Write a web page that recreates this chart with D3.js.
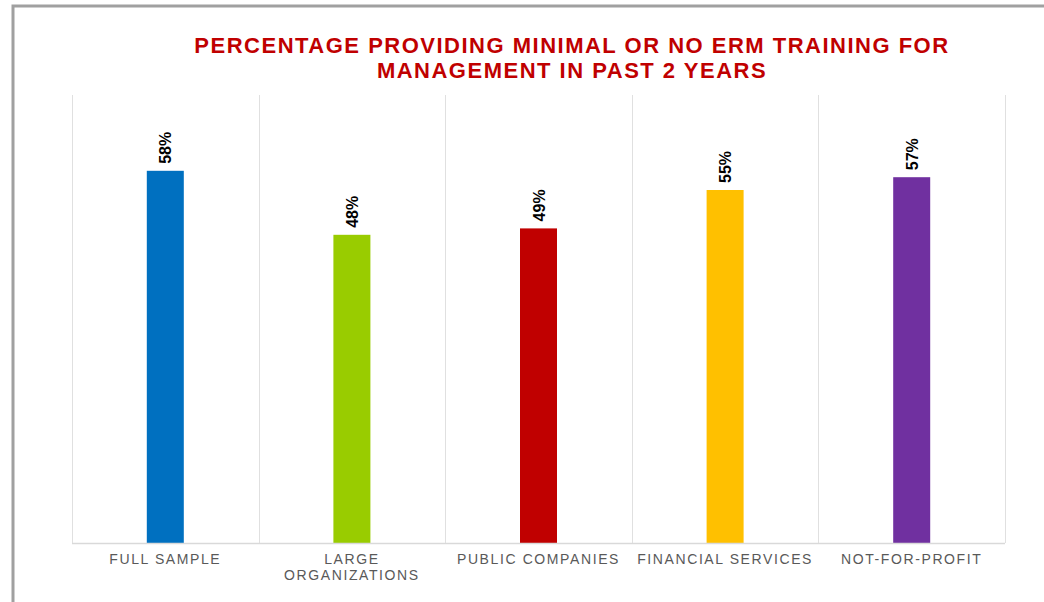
<!DOCTYPE html>
<meta charset="utf-8">
<style>
    body { margin: 0; background: #fff; }
    .title { font: bold 22px "Liberation Sans", Arial, sans-serif; fill: #c00000; text-anchor: middle; letter-spacing: 1.5px; }
    .cat { font: 14px "Liberation Sans", Arial, sans-serif; fill: #595959; text-anchor: middle; letter-spacing: 1.6px; }
    .val { font: bold 16px "Liberation Sans", Arial, sans-serif; fill: #000; }
</style>
<body>
<script src="https://cdn.jsdelivr.net/npm/d3@7"></script>
<script>
    var categories = [["FULL SAMPLE"], ["LARGE", "ORGANIZATIONS"], ["PUBLIC COMPANIES"], ["FINANCIAL SERVICES"], ["NOT-FOR-PROFIT"]];
    var values = [58, 48, 49, 55, 57];
    var colors = ["#0070c0", "#99cc00", "#c00000", "#ffc000", "#7030a0"];
    var titleLines = ["PERCENTAGE PROVIDING MINIMAL OR NO ERM TRAINING FOR", "MANAGEMENT IN PAST 2 YEARS"];

    var width = 1044, height = 602;
    var margin = {left: 72, right: 39, top: 95, bottom: 59};

    var svg = d3.select("body").append("svg")
        .attr("width", width)
        .attr("height", height);

    // outer frame
    svg.append("path")
        .attr("d", "M13," + height + "V6H" + width)
        .attr("fill", "none")
        .attr("stroke", "#a0a0a0")
        .attr("stroke-width", 3);

    var x = d3.scaleBand()
        .domain(d3.range(values.length))
        .range([margin.left, width - margin.right]);

    var y = d3.scaleLinear()
        .domain([0, 70])
        .range([height - margin.bottom, margin.top]);

    // vertical separators
    svg.append("g").selectAll("line")
        .data(d3.range(values.length + 1))
        .enter().append("line")
        .attr("x1", function(i) { return Math.round(margin.left + i * x.step()) + 0.5; })
        .attr("x2", function(i) { return Math.round(margin.left + i * x.step()) + 0.5; })
        .attr("y1", y(70))
        .attr("y2", y(0))
        .attr("stroke", "#e0e0e0");

    var barW = 37;

    svg.append("g").selectAll("rect")
        .data(values)
        .enter().append("rect")
        .attr("x", function(d, i) { return x(i) + x.bandwidth() / 2 - barW / 2; })
        .attr("y", function(d) { return y(d) - 1; })
        .attr("width", barW)
        .attr("height", function(d) { return y(0) - y(d) + 1; })
        .attr("fill", function(d, i) { return colors[i]; });

    // baseline
    svg.append("line")
        .attr("x1", margin.left).attr("x2", width - margin.right)
        .attr("y1", y(0) + 0.5).attr("y2", y(0) + 0.5)
        .attr("stroke", "#d9d9d9")
        .attr("stroke-width", 1.5);

    svg.append("g").selectAll("text")
        .data(values)
        .enter().append("text")
        .attr("class", "val")
        .attr("transform", function(d, i) {
            return "translate(" + (x(i) + x.bandwidth() / 2 + 6) + "," + (y(d) - 8) + ") rotate(-90)";
        })
        .text(function(d) { return d + "%"; });

    var cat = svg.append("g").selectAll("text")
        .data(categories)
        .enter().append("text")
        .attr("class", "cat")
        .attr("x", function(d, i) { return x(i) + x.bandwidth() / 2; })
        .attr("y", y(0) + 21);

    cat.selectAll("tspan")
        .data(function(d) { return d; })
        .enter().append("tspan")
        .attr("x", function() { return d3.select(this.parentNode).attr("x"); })
        .attr("dy", function(d, j) { return j ? 16 : 0; })
        .text(function(d) { return d; });

    svg.append("g").selectAll("text")
        .data(titleLines)
        .enter().append("text")
        .attr("class", "title")
        .attr("x", 572)
        .attr("y", function(d, i) { return 53 + i * 25; })
        .text(function(d) { return d; });
</script>
</body>
